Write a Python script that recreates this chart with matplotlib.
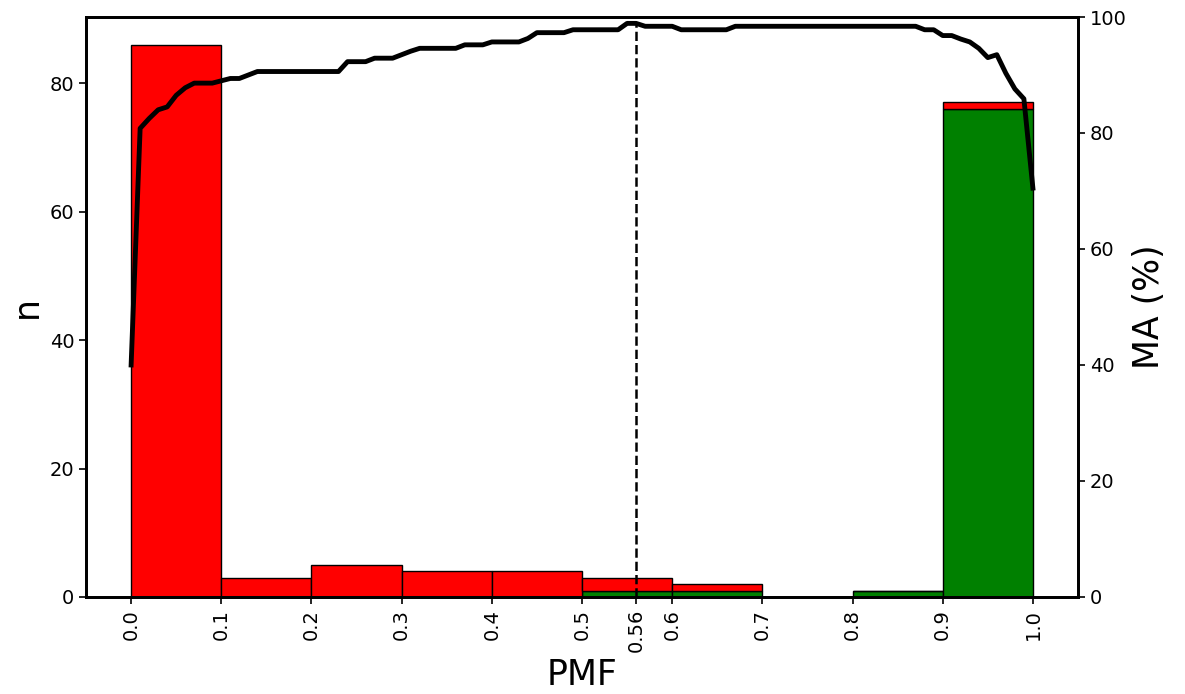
import numpy as np
import matplotlib
matplotlib.use("Agg")
import matplotlib.pyplot as plt

# histogram bins (left edges, width 0.1)
bin_left = [0.0, 0.1, 0.2, 0.3, 0.4, 0.5, 0.6, 0.7, 0.8, 0.9]
n_green = [0, 0, 0, 0, 0, 1, 1, 0, 1, 76]
n_red = [86, 3, 5, 4, 4, 2, 1, 0, 0, 1]

# accuracy curve vs threshold
thresh = np.round(np.arange(0, 101) * 0.01, 2)
ma = [40.0, 80.8, 82.5, 84.0, 84.5, 86.5, 87.8, 88.6, 88.6, 88.6,
      89.0, 89.4, 89.4, 90.0, 90.6, 90.6, 90.6, 90.6, 90.6, 90.6,
      90.6, 90.6, 90.6, 90.6, 92.3, 92.3, 92.3, 92.9, 92.9, 92.9,
      93.5, 94.1, 94.6, 94.6, 94.6, 94.6, 94.6, 95.2, 95.2, 95.2,
      95.7, 95.7, 95.7, 95.7, 96.3, 97.3, 97.3, 97.3, 97.3, 97.8,
      97.8, 97.8, 97.8, 97.8, 97.8, 98.9, 98.9, 98.4, 98.4, 98.4,
      98.4, 97.8, 97.8, 97.8, 97.8, 97.8, 97.8, 98.4, 98.4, 98.4,
      98.4, 98.4, 98.4, 98.4, 98.4, 98.4, 98.4, 98.4, 98.4, 98.4,
      98.4, 98.4, 98.4, 98.4, 98.4, 98.4, 98.4, 98.4, 97.8, 97.8,
      96.8, 96.8, 96.2, 95.7, 94.6, 93.0, 93.5, 90.3, 87.6, 85.9,
      70.5]
best_thresh = 0.56

fig = plt.figure(figsize=(11.85, 6.94), dpi=100)
ax = fig.add_axes([0.0726, 0.1398, 0.8371, 0.8357])

ax.bar(bin_left, n_green, width=0.1, align='edge', color='green',
       edgecolor='black', linewidth=1)
ax.bar(bin_left, n_red, width=0.1, align='edge', bottom=n_green, color='red',
       edgecolor='black', linewidth=1)

ax.set_xlim(-0.05, 1.05)
ax.set_ylim(0, 90.3)
xt = [0.0, 0.1, 0.2, 0.3, 0.4, 0.5, 0.56, 0.6, 0.7, 0.8, 0.9, 1.0]
ax.set_xticks(xt)
ax.set_xticklabels([str(v) for v in xt], rotation=90)
ax.set_yticks([0, 20, 40, 60, 80])
ax.set_xlabel('PMF', fontsize=25)
ax.set_ylabel('n', fontsize=25)
ax.tick_params(labelsize=14, width=1.2, length=5)

ax2 = ax.twinx()
ax2.plot(thresh, ma, color='black', linewidth=3.5)
ax2.plot([best_thresh, best_thresh], [0, max(ma)], color='black',
         linestyle='--', linewidth=1.8)
ax2.set_ylim(0, 100)
ax2.set_ylabel('MA (%)', fontsize=25)
ax2.tick_params(labelsize=14, width=1.2, length=5)

for a in (ax, ax2):
    for s in a.spines.values():
        s.set_linewidth(2)

fig.savefig('out.png', dpi=100)
